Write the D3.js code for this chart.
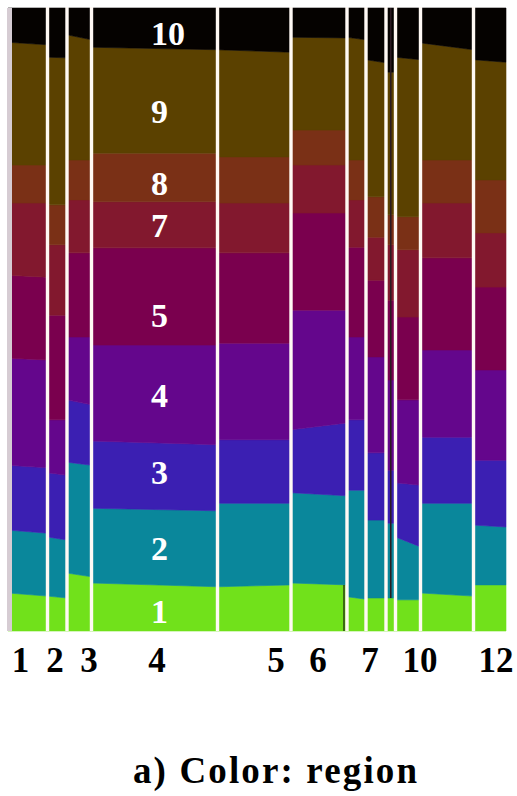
<!DOCTYPE html>
<html>
<head>
<meta charset="utf-8">
<script src="https://cdn.jsdelivr.net/npm/d3@7"></script>
<style>
  html, body { margin: 0; padding: 0; background: #ffffff; }
  svg { display: block; }
</style>
</head>
<body>
<svg id="chart" width="517" height="796"></svg>
<script>
// ---------- data ----------
// column widths (group sizes), in order left to right
const colWidths = [39.5, 19.5, 24.5, 126, 73.5, 56, 19, 20, 9.5, 25, 53, 32.5];

// x tick labels and their positions (in the same units as the column widths)
const tickLabels = ["1", "2", "3", "4", "5", "6", "7", "10", "12"];
const tickPos = [12.5, 47, 81, 149, 268, 310, 362, 412, 488];

// layer names (bottom to top) and colours
const layerNames = ["1", "2", "3", "4", "5", "7", "8", "9", "10"];
const layerColors = ["#71e11b", "#0a879b", "#3b1fb2", "#64068c", "#7a004e",
                     "#82182e", "#7a3016", "#5b4100", "#050200"];

// upper edge (%) of each layer, per column: [left edge, right edge]
const top1 = [[6.1,5.6],[5.6,5.3],[9.3,8.7],[7.7,7.1],[7.1,7.4],[7.7,7.4],[5.5,5.1],[5.3,5.3],[5.3,5.3],[5.0,5.0],[6.1,5.6],[7.4,7.4]];
const top2 = [[16.2,15.7],[15.1,14.6],[27.1,26.6],[19.7,19.3],[20.5,20.5],[22.2,21.7],[22.6,22.6],[17.8,17.8],[17.3,17.3],[15.1,13.5],[20.5,20.5],[17.0,16.7]];
const top3 = [[26.6,26.2],[25.4,25.0],[37.1,36.3],[30.5,29.9],[30.7,30.7],[32.3,33.4],[33.9,33.9],[28.6,28.6],[25.8,25.8],[23.8,23.4],[31.1,31.1],[27.4,27.4]];
const top4 = [[43.8,43.5],[33.9,33.9],[47.2,47.2],[45.9,45.9],[46.2,46.2],[51.5,51.5],[47.2,47.2],[44.0,44.0],[40.3,40.3],[37.1,37.1],[45.1,45.1],[41.9,41.9]];
const top5 = [[57.1,56.8],[50.7,50.7],[60.7,60.7],[61.5,61.5],[60.7,60.7],[67.1,67.1],[61.6,61.6],[56.3,56.3],[53.1,53.1],[50.4,50.4],[59.9,59.9],[55.2,55.2]];
const top7 = [[68.7,68.7],[62.0,62.0],[69.2,69.2],[68.9,68.9],[68.7,68.7],[74.8,74.8],[69.2,69.2],[63.2,63.2],[62.0,62.0],[61.2,61.2],[68.7,68.7],[63.9,63.9]];
const top8 = [[74.8,74.8],[68.4,68.4],[75.6,75.6],[76.7,76.7],[76.1,76.1],[80.4,80.4],[75.6,75.6],[69.7,69.7],[66.8,66.8],[66.5,66.5],[75.6,75.6],[72.4,72.4]];
const top9 = [[94.5,94.1],[92.1,92.0],[95.7,94.9],[93.7,93.3],[93.3,92.9],[95.3,95.2],[95.3,94.9],[91.7,91.2],[89.7,89.7],[92.1,91.7],[94.4,93.3],[91.7,91.3]];
const top10 = colWidths.map(() => [100, 100]);

// in-chart layer labels: text, x (column units), y (% baseline)
const layerLabels = ["10", "9", "8", "7", "5", "4", "3", "2", "1"];
const layerLabelX = 143;
const layerLabelY = [94.1, 81.5, 70.0, 63.2, 48.8, 36.0, 23.6, 11.4, 1.3];

const title = "a) Color: region";

// ---------- layout ----------
const svg = d3.select("#chart");
const total = d3.sum(colWidths);
const x = d3.scaleLinear().domain([0, total]).range([8, 506]);
const y = d3.scaleLinear().domain([0, 100]).range([631, 8]);

const starts = d3.cumsum([0].concat(colWidths.slice(0, -1)));
const cols = colWidths.map((w, i) => ({ i, x0: starts[i], x1: starts[i] + w }));

const tops = [top1, top2, top3, top4, top5, top7, top8, top9, top10];

// build points for each layer
const layers = tops.map((t, li) => {
  const pts = [];
  cols.forEach(c => {
    const lowL = li === 0 ? 0 : tops[li - 1][c.i][0];
    const lowR = li === 0 ? 0 : tops[li - 1][c.i][1];
    pts.push({ x: c.x0, lo: lowL, hi: t[c.i][0] });
    pts.push({ x: c.x1, lo: lowR, hi: t[c.i][1] });
  });
  return { name: layerNames[li], color: layerColors[li], pts };
});

const area = d3.area()
  .x(d => x(d.x))
  .y0(d => y(d.lo))
  .y1(d => y(d.hi))
  .curve(d3.curveLinear);

svg.append("g")
  .selectAll("path")
  .data(layers)
  .join("path")
  .attr("d", d => area(d.pts))
  .attr("fill", d => d.color)
  .attr("stroke", d => d.color)
  .attr("stroke-width", 0.6);

// thin dark line inside the narrow column and at the bottom right of column 6
const colI = cols[8];
svg.append("line")
  .attr("x1", x((colI.x0 + colI.x1) / 2)).attr("x2", x((colI.x0 + colI.x1) / 2))
  .attr("y1", y(100)).attr("y2", y(top1[8][0]))
  .attr("stroke", "#2b1b22").attr("stroke-width", 1.6);
const colF = cols[5];
svg.append("line")
  .attr("x1", x(colF.x1) - 3).attr("x2", x(colF.x1) - 3)
  .attr("y1", y(top1[5][1])).attr("y2", y(0))
  .attr("stroke", "#1a1a10").attr("stroke-width", 1.2);

// separators between columns
svg.append("g")
  .selectAll("line")
  .data(cols.slice(1))
  .join("line")
  .attr("x1", d => x(d.x0)).attr("x2", d => x(d.x0))
  .attr("y1", y(100) - 1).attr("y2", y(0))
  .attr("stroke", "#fff9f4")
  .attr("stroke-width", 3.4);

// light left border
svg.append("line")
  .attr("x1", x(0) + 1.5).attr("x2", x(0) + 1.5)
  .attr("y1", y(100)).attr("y2", y(0))
  .attr("stroke", "#d6ccd3").attr("stroke-width", 5);

// in-chart labels
svg.append("g")
  .selectAll("text")
  .data(layerLabels)
  .join("text")
  .attr("x", x(layerLabelX))
  .attr("y", (d, i) => y(layerLabelY[i]))
  .attr("fill", "#ffffff")
  .attr("font-family", "'Liberation Serif', 'Times New Roman', serif")
  .attr("font-weight", "bold")
  .attr("font-size", 34)
  .text(d => d);

// x tick labels
svg.append("g")
  .selectAll("text")
  .data(tickLabels)
  .join("text")
  .attr("x", (d, i) => x(tickPos[i]))
  .attr("y", 672)
  .attr("text-anchor", "middle")
  .attr("fill", "#000000")
  .attr("font-family", "'Liberation Serif', 'Times New Roman', serif")
  .attr("font-weight", "bold")
  .attr("font-size", 35)
  .text(d => d);

// title
svg.append("text")
  .attr("x", 275)
  .attr("y", 783)
  .attr("text-anchor", "middle")
  .attr("fill", "#000000")
  .attr("font-family", "'Liberation Serif', 'Times New Roman', serif")
  .attr("font-weight", "bold")
  .attr("font-size", 37)
  .attr("textLength", 284)
  .attr("lengthAdjust", "spacing")
  .text(title);
</script>
</body>
</html>
